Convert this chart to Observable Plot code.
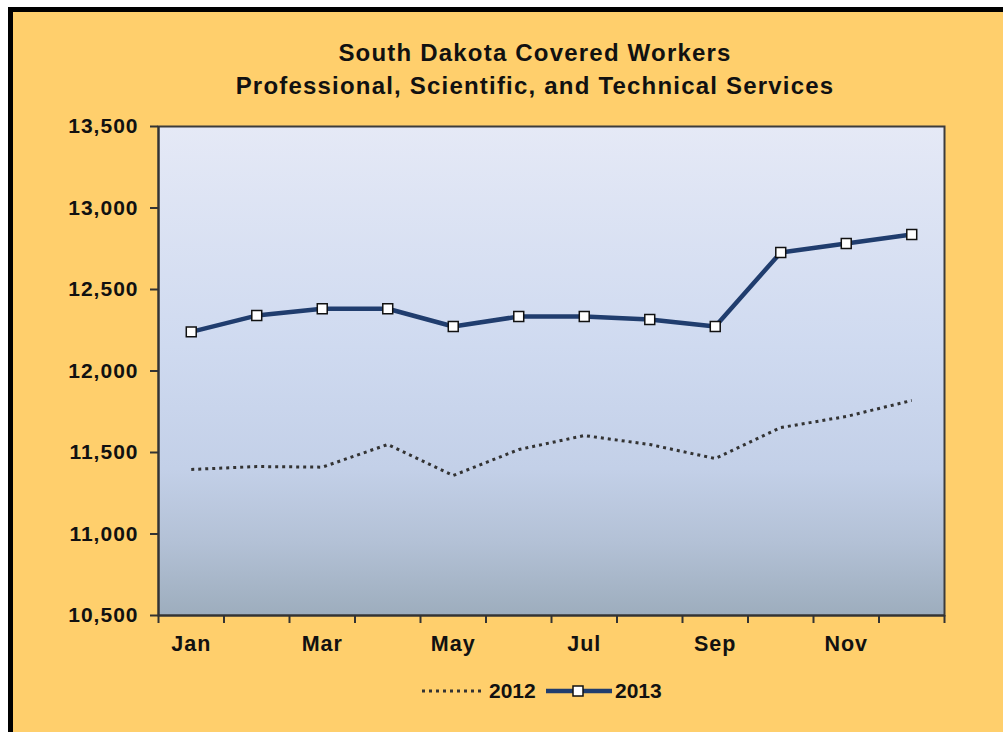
<!DOCTYPE html>
<html>
<head>
<meta charset="utf-8">
<script src="https://cdn.jsdelivr.net/npm/d3@7"></script>
<script src="https://cdn.jsdelivr.net/npm/@observablehq/plot@0.6"></script>
<style>
  html, body { margin: 0; padding: 0; background: #fff; width: 1003px; height: 732px; overflow: hidden; }
  #frame { position: absolute; left: 8px; top: 7px; width: 1000px; height: 730px;
           border-top: 5px solid #000; border-left: 5px solid #000; background: #FFCF6C; }
  #title { position: absolute; left: 35px; top: 36px; width: 1000px; text-align: center;
           font: bold 24px "Liberation Sans", Arial, sans-serif; line-height: 33px; color: #111;
           letter-spacing: 1.2px; }
  #chart { position: absolute; left: 0; top: 110px; }
  #chart text { letter-spacing: 1px; }
  #legend { position: absolute; left: 0; top: 678px; width: 1003px; height: 26px;
            font: bold 21px "Liberation Sans", Arial, sans-serif; color: #111; }
  #legend span { position: absolute; top: 0; line-height: 26px; }
  #legend svg { position: absolute; top: 0; }
</style>
</head>
<body>
<div id="frame"></div>
<div id="title">South Dakota Covered Workers<br>Professional, Scientific, and Technical Services</div>
<div id="chart"></div>
<div id="legend">
  <svg style="left:420px" width="64" height="26"><line x1="2" y1="13" x2="62" y2="13" stroke="#333" stroke-width="3" stroke-dasharray="3 4"/></svg>
  <span style="left:489px">2012</span>
  <svg style="left:545px" width="68" height="26"><line x1="1" y1="13" x2="67" y2="13" stroke="#203d6e" stroke-width="4.5"/><rect x="28" y="8" width="10" height="10" fill="#fff" stroke="#111" stroke-width="1.5"/></svg>
  <span style="left:615px">2013</span>
</div>
<script>
const months = ["Jan","Feb","Mar","Apr","May","Jun","Jul","Aug","Sep","Oct","Nov","Dec"];
const values2012 = [11396, 11414, 11410, 11549, 11359, 11518, 11604, 11549, 11463, 11653, 11721, 11819];
const values2013 = [12240, 12340, 12382, 12382, 12273, 12334, 12334, 12316, 12273, 12727, 12782, 12837];
const yTicks = [10500, 11000, 11500, 12000, 12500, 13000, 13500];
const labeledMonths = ["Jan","Mar","May","Jul","Sep","Nov"];

const rows2012 = months.map((m, i) => ({month: m, pos: i + 0.5, value: values2012[i]}));
const rows2013 = months.map((m, i) => ({month: m, pos: i + 0.5, value: values2013[i]}));
const boundaries = d3.range(0, months.length + 1);
const labelPos = labeledMonths.map(m => months.indexOf(m) + 0.5);

const font = "'Liberation Sans', Arial, sans-serif";

const chart = Plot.plot({
  width: 1003,
  height: 540,
  marginLeft: 158,
  marginRight: 59,
  marginTop: 16,
  marginBottom: 35,
  style: { background: "transparent", fontFamily: font, overflow: "visible" },
  x: { type: "linear", domain: [0, months.length] },
  y: { domain: [10500, 13500] },
  marks: [
    Plot.frame({ fill: "url(#plotbg)", stroke: "#3c3c3c", strokeWidth: 2 }),
    Plot.axisY({ ticks: yTicks, tickFormat: d3.format(","), tickSize: 8, tickPadding: 12, label: null,
                 fontSize: 21, fontWeight: "bold", fill: "#111", stroke: "#333", strokeWidth: 2 }),
    Plot.axisX({ ticks: boundaries, tickFormat: () => "", tickSize: 8, stroke: "#333", strokeWidth: 2, label: null }),
    Plot.axisX({ ticks: labelPos, tickFormat: d => months[Math.floor(d)], tickSize: 0, tickPadding: 20,
                 fontSize: 21.5, fontWeight: "bold", fill: "#111", label: null }),
    Plot.ruleY([10500], { stroke: "#333", strokeWidth: 2 }),
    Plot.ruleX([0], { stroke: "#333", strokeWidth: 2 }),
    Plot.line(rows2012, { x: "pos", y: "value", stroke: "#333", strokeWidth: 3, strokeDasharray: "3 4", strokeLinecap: "butt" }),
    Plot.line(rows2013, { x: "pos", y: "value", stroke: "#203d6e", strokeWidth: 4.5 }),
    Plot.dot(rows2013, { x: "pos", y: "value", symbol: "square", r: 5.6, fill: "#fff", stroke: "#111", strokeWidth: 1.5 })
  ]
});

const svg = d3.select(chart);
const defs = svg.insert("defs", ":first-child");
const grad = defs.append("linearGradient").attr("id", "plotbg")
  .attr("x1", 0).attr("y1", 0).attr("x2", 0).attr("y2", 1);
[[0, "#E5E9F6"], [0.45, "#CFDAF0"], [0.7, "#C3D0E8"], [0.85, "#B3C1D6"], [1, "#9DADBD"]]
  .forEach(([o, c]) => grad.append("stop").attr("offset", o).attr("stop-color", c));

document.getElementById("chart").appendChild(chart);
</script>
</body>
</html>
